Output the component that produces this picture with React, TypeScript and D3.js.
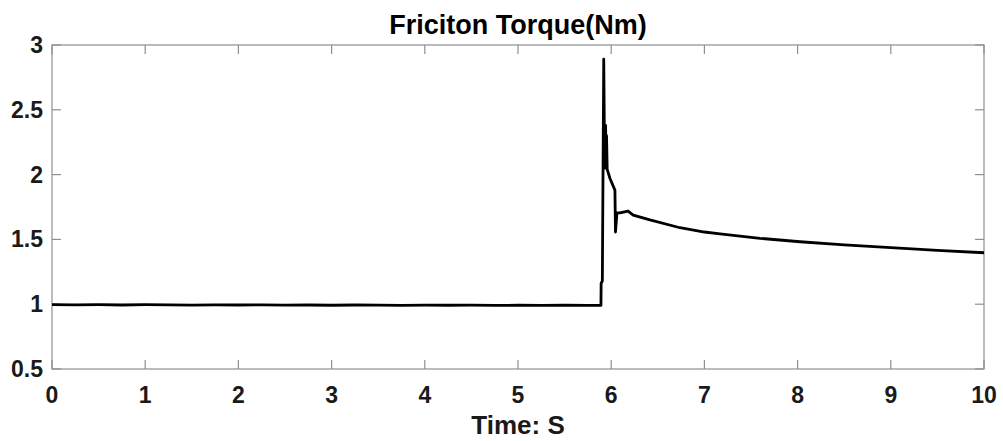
import React from "react";
import * as d3 from "d3";

const title = "Friciton Torque(Nm)";
const xLabel = "Time: S";
const xTicks = [0, 1, 2, 3, 4, 5, 6, 7, 8, 9, 10];
const yTicks = [0.5, 1, 1.5, 2, 2.5, 3];
const yTickLabels = ["0.5", "1", "1.5", "2", "2.5", "3"];

const time = [
  0, 0.25, 0.5, 0.75, 1, 1.25, 1.5, 1.75, 2, 2.25, 2.5, 2.75, 3, 3.25, 3.5, 3.75, 4, 4.25, 4.5, 4.75, 5, 5.25, 5.5, 5.75, 5.89,
  5.892, 5.905, 5.92, 5.93, 5.94, 5.945, 5.95, 5.957, 5.987, 6.04, 6.046, 6.062, 6.094, 6.18, 6.236, 6.416, 6.738, 7.0, 7.167, 7.597, 8.026, 8.5, 9, 9.5, 10,
];
const torque = [
  0.997, 0.995, 0.996, 0.994, 0.996, 0.995, 0.993, 0.995, 0.994, 0.995, 0.993, 0.994, 0.992, 0.994, 0.993, 0.991, 0.993, 0.992, 0.993, 0.991, 0.992, 0.991, 0.992, 0.991, 0.991,
  1.16, 1.18, 2.89, 2.05, 2.38, 2.06, 2.3, 2.04, 1.97, 1.88, 1.557, 1.704, 1.704, 1.719, 1.688, 1.65, 1.59, 1.557, 1.542, 1.508, 1.482, 1.458, 1.436, 1.415, 1.397,
];

const W = 1003;
const H = 441;
const M = { left: 52, right: 984, top: 45, bottom: 369 };

export default function App() {
  const x = d3.scaleLinear().domain([0, 10]).range([M.left, M.right]);
  const y = d3.scaleLinear().domain([0.5, 3]).range([M.bottom, M.top]);
  const pts = time.map((t, i) => [t, torque[i]] as [number, number]);
  const line = d3
    .line<[number, number]>()
    .x((d) => x(d[0]))
    .y((d) => y(d[1]));
  const tl = 9;
  const axisColor = "#8f8f8f";
  const font = "'Liberation Sans', Arial, sans-serif";
  return (
    <svg width={W} height={H} style={{ position: "absolute", left: 0, top: 0, background: "#fff" }}>
      <rect x={0} y={0} width={W} height={H} fill="#fff" />
      <rect
        x={M.left}
        y={M.top}
        width={M.right - M.left}
        height={M.bottom - M.top}
        fill="none"
        stroke={axisColor}
        strokeWidth={1.2}
      />
      {xTicks.map((t) => (
        <g key={"x" + t}>
          <line x1={x(t)} x2={x(t)} y1={M.bottom} y2={M.bottom - tl} stroke={axisColor} strokeWidth={1.2} />
          <line x1={x(t)} x2={x(t)} y1={M.top} y2={M.top + tl} stroke={axisColor} strokeWidth={1.2} />
          <text
            x={x(t)}
            y={403}
            textAnchor="middle"
            fontFamily={font}
            fontWeight="bold"
            fontSize={23}
            fill="#1a1a1a"
          >
            {t}
          </text>
        </g>
      ))}
      {yTicks.map((v, i) => (
        <g key={"y" + v}>
          <line x1={M.left} x2={M.left + tl} y1={y(v)} y2={y(v)} stroke={axisColor} strokeWidth={1.2} />
          <line x1={M.right} x2={M.right - tl} y1={y(v)} y2={y(v)} stroke={axisColor} strokeWidth={1.2} />
          <text
            x={43}
            y={y(v) + 8}
            textAnchor="end"
            fontFamily={font}
            fontWeight="bold"
            fontSize={23}
            fill="#1a1a1a"
          >
            {yTickLabels[i]}
          </text>
        </g>
      ))}
      <path d={line(pts) || ""} fill="none" stroke="#000" strokeWidth={2.8} strokeLinejoin="round" />
      <text
        x={(M.left + M.right) / 2}
        y={34}
        textAnchor="middle"
        fontFamily={font}
        fontWeight="bold"
        fontSize={27}
        fill="#000"
      >
        {title}
      </text>
      <text
        x={(M.left + M.right) / 2}
        y={434}
        textAnchor="middle"
        fontFamily={font}
        fontWeight="bold"
        fontSize={26}
        fill="#1a1a1a"
      >
        {xLabel}
      </text>
    </svg>
  );
}
